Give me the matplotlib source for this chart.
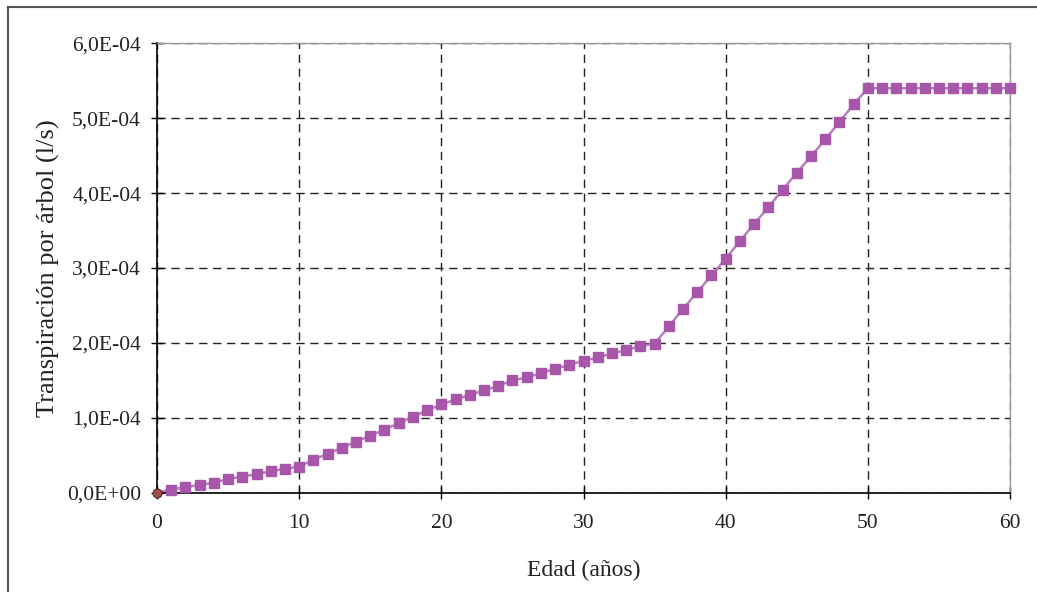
import matplotlib
matplotlib.use("Agg")
import matplotlib.pyplot as plt
from matplotlib.lines import Line2D
from matplotlib.ticker import FuncFormatter

plt.rcParams['font.family'] = ['Liberation Serif', 'DejaVu Serif']

# edad (años) y transpiración por árbol (l/s)
edad = list(range(0, 61))
transpiracion = [
    0.0,
    0.040e-4, 0.071e-4, 0.103e-4, 0.130e-4, 0.180e-4,
    0.214e-4, 0.245e-4, 0.285e-4, 0.317e-4, 0.347e-4,
    0.437e-4, 0.517e-4, 0.597e-4, 0.680e-4, 0.760e-4,
    0.840e-4, 0.926e-4, 1.015e-4, 1.096e-4, 1.176e-4,
    1.243e-4, 1.305e-4, 1.363e-4, 1.425e-4, 1.497e-4,
    1.537e-4, 1.595e-4, 1.653e-4, 1.706e-4, 1.760e-4,
    1.804e-4, 1.858e-4, 1.902e-4, 1.955e-4, 1.990e-4,
    2.218e-4, 2.452e-4, 2.677e-4, 2.900e-4, 3.123e-4,
    3.358e-4, 3.590e-4, 3.809e-4, 4.045e-4, 4.272e-4,
    4.490e-4, 4.717e-4, 4.949e-4, 5.185e-4, 5.400e-4,
    5.400e-4, 5.400e-4, 5.400e-4, 5.400e-4, 5.400e-4,
    5.400e-4, 5.400e-4, 5.400e-4, 5.400e-4, 5.400e-4,
]
x_ticks = [0, 10, 20, 30, 40, 50, 60]
y_ticks = [0, 1e-4, 2e-4, 3e-4, 4e-4, 5e-4, 6e-4]


def sci_coma(v, pos):
    if v == 0:
        return "0,0E+00"
    mant, exp = f"{v:.1E}".split("E")
    return f"{mant.replace('.', ',')}E{exp}"


fig = plt.figure(figsize=(10.37, 5.92), dpi=100)
ax = fig.add_axes([0.1514, 0.168, 0.8226, 0.7588])

ax.plot(edad[1:], transpiracion[1:], color="#B77FC0", linewidth=1.8,
        marker="s", markersize=7.5, markerfacecolor="#A856AA",
        markeredgecolor="#A856AA", zorder=3, clip_on=False)
ax.plot(edad[:2], transpiracion[:2], color="#B77FC0", linewidth=1.8, zorder=2)
ax.plot(edad[0], transpiracion[0], marker="o", markersize=6.5,
        markerfacecolor="#A44F4C", markeredgecolor="#5A2A2A",
        markeredgewidth=0.8, zorder=4, clip_on=False)

ax.set_xlim(0, 60)
ax.set_ylim(0, 6e-4)
ax.set_xticks(x_ticks)
ax.set_yticks(y_ticks)
ax.yaxis.set_major_formatter(FuncFormatter(sci_coma))

ax.grid(True, color="#222222", linestyle=(0, (6, 4)), linewidth=1.0)
ax.set_axisbelow(True)

ax.spines["left"].set_color("black")
ax.spines["bottom"].set_color("black")
ax.spines["left"].set_linewidth(1.2)
ax.spines["bottom"].set_linewidth(1.2)
ax.spines["top"].set_color("#999999")
ax.spines["right"].set_color("#999999")
ax.spines["top"].set_linewidth(1.0)
ax.spines["right"].set_linewidth(1.0)

ax.tick_params(axis="both", direction="inout", length=9, width=1.0,
               labelsize=15.5, colors="black", labelcolor="#222222")
ax.tick_params(axis="y", pad=7)
ax.tick_params(axis="x", pad=11)

ax.set_xlabel("Edad (años)", fontsize=17, color="#222222", labelpad=19)
ax.set_ylabel("Transpiración por árbol (l/s)", fontsize=19,
              color="#222222", labelpad=5)

# marco exterior
fig.add_artist(Line2D([8 / 1037, 1.0], [1 - 7 / 592, 1 - 7 / 592],
                      color="#555555", linewidth=1.5))
fig.add_artist(Line2D([8 / 1037, 8 / 1037], [0.0, 1 - 7 / 592],
                      color="#555555", linewidth=1.5))

fig.savefig("out.png", dpi=100)
